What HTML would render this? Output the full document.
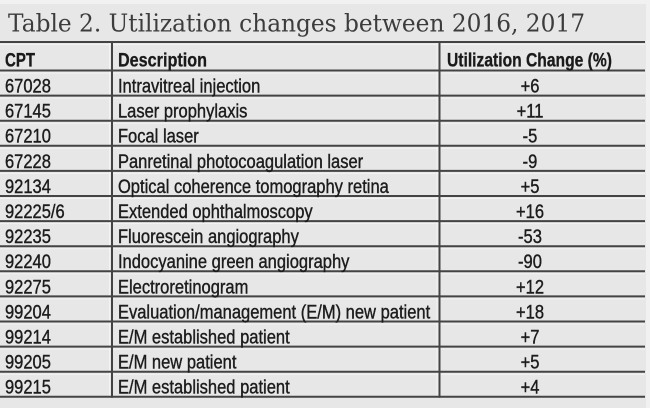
<!DOCTYPE html>
<html>
<head>
<meta charset="utf-8">
<style>
  html, body { margin: 0; padding: 0; background: #f0f0f0; }
  svg { display: block; }
</style>
</head>
<body>
<svg width="650" height="408" viewBox="0 0 650 408" xmlns="http://www.w3.org/2000/svg">
  <!-- backgrounds -->
  <rect x="0" y="0" width="650" height="408" fill="#f1f1f1"/>
  <rect x="0" y="4" width="646" height="404" fill="#e7e7e7"/>

  <!-- title -->
  <text x="8" y="31.5" font-family="'DejaVu Serif', 'Liberation Serif', serif" font-size="24" fill="#3c3c3c" textLength="577" lengthAdjust="spacingAndGlyphs">Table 2. Utilization changes between 2016, 2017</text>

  <!-- light highlight lines -->
  <g stroke="#f7f7f7" stroke-width="1" opacity="0.8">
    <line x1="0" y1="44.5" x2="645" y2="44.5"/>
    <line x1="0" y1="73" x2="645" y2="73"/>
    <line x1="0" y1="98.1" x2="645" y2="98.1"/>
    <line x1="0" y1="123.2" x2="645" y2="123.2"/>
    <line x1="0" y1="148.3" x2="645" y2="148.3"/>
    <line x1="0" y1="173.4" x2="645" y2="173.4"/>
    <line x1="0" y1="198.5" x2="645" y2="198.5"/>
    <line x1="0" y1="223.6" x2="645" y2="223.6"/>
    <line x1="0" y1="248.7" x2="645" y2="248.7"/>
    <line x1="0" y1="273.8" x2="645" y2="273.8"/>
    <line x1="0" y1="298.9" x2="645" y2="298.9"/>
    <line x1="0" y1="324" x2="645" y2="324"/>
    <line x1="0" y1="349.1" x2="645" y2="349.1"/>
    <line x1="0" y1="374.2" x2="645" y2="374.2"/>
    <line x1="109.5" y1="42" x2="109.5" y2="397"/>
    <line x1="437" y1="42" x2="437" y2="397"/>
  </g>

  <!-- grid lines -->
  <g stroke="#444" stroke-width="2">
    <line x1="0" y1="42" x2="645" y2="42"/>
    <line x1="0" y1="70.5" x2="645" y2="70.5"/>
    <line x1="0" y1="95.6" x2="645" y2="95.6"/>
    <line x1="0" y1="120.7" x2="645" y2="120.7"/>
    <line x1="0" y1="145.8" x2="645" y2="145.8"/>
    <line x1="0" y1="170.9" x2="645" y2="170.9"/>
    <line x1="0" y1="196" x2="645" y2="196"/>
    <line x1="0" y1="221.1" x2="645" y2="221.1"/>
    <line x1="0" y1="246.2" x2="645" y2="246.2"/>
    <line x1="0" y1="271.3" x2="645" y2="271.3"/>
    <line x1="0" y1="296.4" x2="645" y2="296.4"/>
    <line x1="0" y1="321.5" x2="645" y2="321.5"/>
    <line x1="0" y1="346.6" x2="645" y2="346.6"/>
    <line x1="0" y1="371.7" x2="645" y2="371.7"/>
    <line x1="0" y1="396.8" x2="645" y2="396.8"/>
    <line x1="112" y1="41" x2="112" y2="397.8"/>
    <line x1="439.5" y1="41" x2="439.5" y2="397.8"/>
  </g>

  <!-- header -->
  <g font-family="'Liberation Sans', 'DejaVu Sans', sans-serif" font-size="19" font-weight="bold" fill="#1a1a1a" stroke="#1a1a1a" stroke-width="0.3">
    <text x="5" y="66.5" textLength="30" lengthAdjust="spacingAndGlyphs">CPT</text>
    <text x="118" y="66.5" textLength="89" lengthAdjust="spacingAndGlyphs">Description</text>
    <text x="447" y="66.5" textLength="165" lengthAdjust="spacingAndGlyphs">Utilization Change (%)</text>
  </g>

  <!-- body (condensed via horizontal scale) -->
  <g transform="scale(0.87,1)" font-family="'Liberation Sans', 'DejaVu Sans', sans-serif" font-size="19" fill="#1c1c1c" stroke="#1c1c1c" stroke-width="0.4">
    <!-- CPT codes -->
    <g>
      <text x="5.75" y="92.5">67028</text>
      <text x="5.75" y="117.6">67145</text>
      <text x="5.75" y="142.7">67210</text>
      <text x="5.75" y="167.8">67228</text>
      <text x="5.75" y="192.9">92134</text>
      <text x="5.75" y="218">92225/6</text>
      <text x="5.75" y="243.1">92235</text>
      <text x="5.75" y="268.2">92240</text>
      <text x="5.75" y="293.3">92275</text>
      <text x="5.75" y="318.4">99204</text>
      <text x="5.75" y="343.5">99214</text>
      <text x="5.75" y="368.6">99205</text>
      <text x="5.75" y="393.4">99215</text>
    </g>
    <!-- descriptions -->
    <g>
      <text x="135.6" y="92.5">Intravitreal injection</text>
      <text x="135.6" y="117.6">Laser prophylaxis</text>
      <text x="135.6" y="142.7">Focal laser</text>
      <text x="135.6" y="167.8">Panretinal photocoagulation laser</text>
      <text x="135.6" y="192.9">Optical coherence tomography retina</text>
      <text x="135.6" y="218">Extended ophthalmoscopy</text>
      <text x="135.6" y="243.1">Fluorescein angiography</text>
      <text x="135.6" y="268.2">Indocyanine green angiography</text>
      <text x="135.6" y="293.3">Electroretinogram</text>
      <text x="135.6" y="318.4">Evaluation/management (E/M) new patient</text>
      <text x="135.6" y="343.5">E/M established patient</text>
      <text x="135.6" y="368.6">E/M new patient</text>
      <text x="135.6" y="393.4">E/M established patient</text>
    </g>
    <!-- values -->
    <g text-anchor="middle">
      <text x="609.2" y="92.5">+6</text>
      <text x="609.2" y="117.6">+11</text>
      <text x="609.2" y="142.7">-5</text>
      <text x="609.2" y="167.8">-9</text>
      <text x="609.2" y="192.9">+5</text>
      <text x="609.2" y="218">+16</text>
      <text x="609.2" y="243.1">-53</text>
      <text x="609.2" y="268.2">-90</text>
      <text x="609.2" y="293.3">+12</text>
      <text x="609.2" y="318.4">+18</text>
      <text x="609.2" y="343.5">+7</text>
      <text x="609.2" y="368.6">+5</text>
      <text x="609.2" y="393.4">+4</text>
    </g>
  </g>
</svg>
</body>
</html>
